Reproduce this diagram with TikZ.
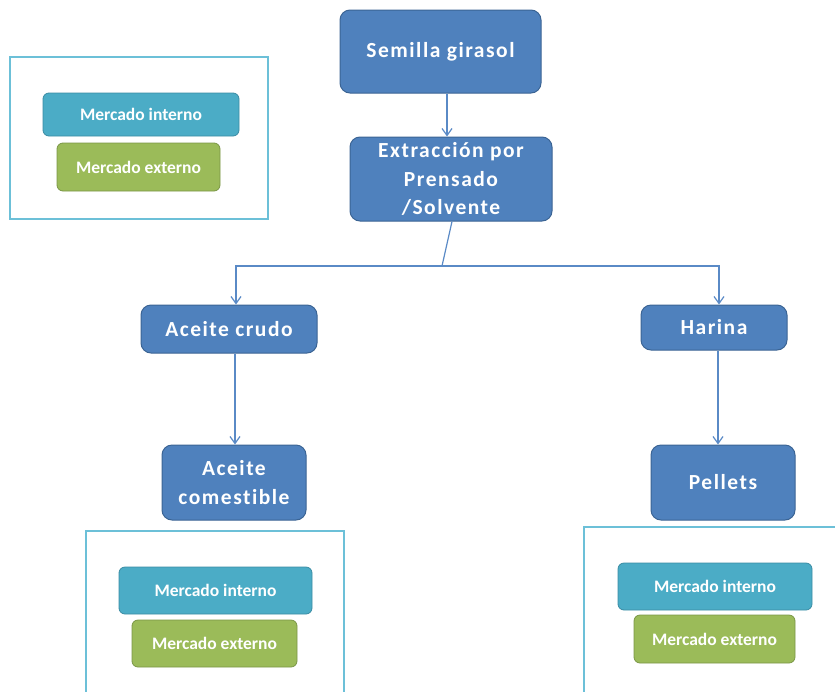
\documentclass[tikz,border=0pt]{standalone}
\usepackage{fontspec}
\setmainfont[Ligatures=CommonOff]{Carlito}
\newfontfamily\stepfont[Ligatures=CommonOff, LetterSpace=7]{Carlito}
\usetikzlibrary{arrows.meta}
\definecolor{stepblue}{HTML}{4F81BD}
\definecolor{stepedge}{HTML}{3B6494}
\definecolor{intfill}{HTML}{4BACC6}
\definecolor{intedge}{HTML}{3A8CA3}
\definecolor{extfill}{HTML}{9BBB59}
\definecolor{extedge}{HTML}{7A9646}
\definecolor{frameline}{HTML}{6CC0D8}
\definecolor{linkline}{HTML}{5A8AC6}
\tikzset{
  stepbox/.style={draw=stepedge, line width=1pt, fill=stepblue, rounded corners=10pt,
    text=white, align=center, font=\stepfont\fontsize{21.5}{28.5}\selectfont\bfseries, inner sep=2pt},
  intbox/.style={draw=intedge, line width=0.8pt, fill=intfill, rounded corners=6pt,
    text=white, font=\fontsize{17.5}{20}\selectfont\bfseries},
  extbox/.style={draw=extedge, line width=0.8pt, fill=extfill, rounded corners=6pt,
    text=white, font=\fontsize{17.5}{20}\selectfont\bfseries},
  framebox/.style={draw=frameline, line width=1.8pt},
  link/.style={draw=linkline, line width=1.2pt},
  arr/.style={link, -{Straight Barb[length=7pt, width=10pt, line width=1.2pt]}},
}
\begin{document}
\begin{tikzpicture}[x=1pt, y=-1pt]
\useasboundingbox (0,0) rectangle (835,691);

% market legend frames
\draw[framebox] (10,57) rectangle (268,219);
\draw[framebox] (86,531) rectangle (344,700);
\draw[framebox] (584,527) rectangle (840,700);

% market legend entries
\node[intbox, minimum width=196pt, minimum height=43pt] (int1) at (141,114.5) {Mercado interno};
\node[extbox, minimum width=163pt, minimum height=48pt] (ext1) at (138.5,167) {Mercado externo};
\node[intbox, minimum width=193pt, minimum height=47pt] (int2) at (215.5,590.5) {Mercado interno};
\node[extbox, minimum width=165pt, minimum height=47pt] (ext2) at (214.5,643.5) {Mercado externo};
\node[intbox, minimum width=194pt, minimum height=47pt] (int3) at (715,586.5) {Mercado interno};
\node[extbox, minimum width=161pt, minimum height=48pt] (ext3) at (714.5,639) {Mercado externo};

% process steps
\node[stepbox, minimum width=201pt, minimum height=83pt] (semilla) at (440.5,51.5) {Semilla girasol};
\node[stepbox, minimum width=202pt, minimum height=84pt] (extr) at (451,179) {Extracción por\\Prensado\\/Solvente};
\node[stepbox, minimum width=176pt, minimum height=48pt] (crudo) at (229,329) {Aceite crudo};
\node[stepbox, minimum width=146pt, minimum height=45pt] (harina) at (714,327.5) {Harina};
\node[stepbox, minimum width=144pt, minimum height=75pt] (comest) at (234,482.5) {Aceite\\comestible};
\node[stepbox, minimum width=144pt, minimum height=75pt] (pellets) at (723,482.5) {Pellets};

% connectors
\coordinate (split) at (442,266);
\draw[arr] ([xshift=6.5pt]semilla.south) -- ([xshift=6.5pt]semilla.south |- extr.north);
\draw[link] ([xshift=1pt]extr.south) -- (split);
\draw[arr] (split) -| ([xshift=7pt]crudo.north);
\draw[arr] (split) -| ([xshift=5pt]harina.north);
\draw[arr] ([xshift=6pt]crudo.south) -- ([xshift=6pt]crudo.south |- comest.north);
\draw[arr] ([xshift=4pt]harina.south) -- ([xshift=4pt]harina.south |- pellets.north);
\end{tikzpicture}
\end{document}
